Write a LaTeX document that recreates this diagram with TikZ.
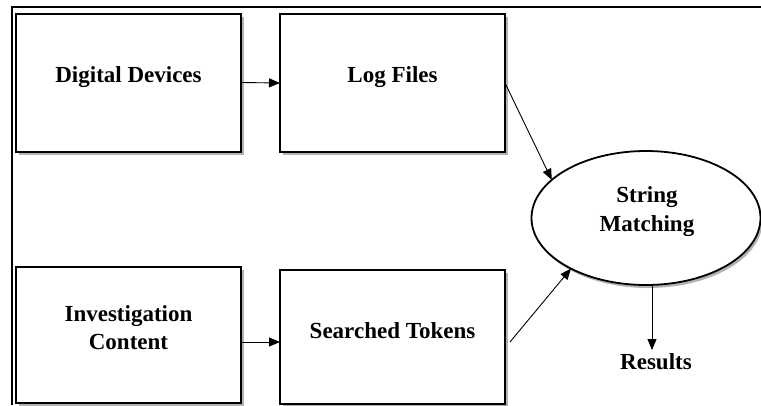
\documentclass[tikz,border=0pt]{standalone}
\usepackage{fontspec}
\setmainfont{Liberation Serif}
\usetikzlibrary{arrows.meta,shadows,calc,shapes.geometric}

\begin{document}
\begin{tikzpicture}[x=1pt,y=-1pt,
  every node/.style={inner sep=0pt, outer sep=0pt},
  box/.style={draw=black, line width=2pt, fill=white, rectangle,
    minimum width=225pt, minimum height=138pt,
    drop shadow={shadow xshift=3pt, shadow yshift=-3pt, opacity=0.3, fill=black}},
  oval/.style={draw=black, line width=1.8pt, fill=white, ellipse,
    minimum width=229pt, minimum height=134pt,
    drop shadow={shadow xshift=2pt, shadow yshift=-3pt, opacity=0.3, fill=black}},
  lbl/.style={font=\fontsize{23}{28.5}\selectfont\bfseries, align=center},
  arr/.style={line width=0.9pt, -{Triangle[length=11pt,width=9pt]}},
  frame/.style={line width=2.2pt}
]
\useasboundingbox (0,0) rectangle (761,405);

% outer frame (top and left edges)
\coordinate (fr1) at (761,7);
\coordinate (fr2) at (12,7);
\coordinate (fr3) at (12,405);
\draw[frame] (fr1) -- (fr2) -- (fr3);

% process boxes
\node[box] (dd) at (128.5,82.5) {};
\node[box] (lf) at (392.5,83) {};
\node[box, minimum height=136pt] (ic) at (128.5,335) {};
\node[box, minimum height=134pt] (st) at (392.5,337) {};

% matching step
\node[oval] (sm) at (646,218) {};

% texts
\node[lbl] (ddt) at ($(dd.center)+(0,-5.5)$) {Digital Devices};
\node[lbl] (lft) at ($(lf.center)+(0,-6)$) {Log Files};
\node[lbl] (ict) at ($(ic.center)+(0,-7.5)$) {Investigation\\Content};
\node[lbl] (stt) at ($(st.center)+(0,-6)$) {Searched Tokens};
\node[lbl] (smt) at (647,211.5) {String\\Matching};
\node[lbl] (res) at (656,362) {Results};

% connectors
\draw[arr] (dd.east) -- (lf.west);
\draw[arr] ([yshift=-7pt]ic.east) -- ([yshift=-7pt]ic.east -| st.west);
\draw[arr] (lf.east) -- (sm.158);
\coordinate (stout) at ($(st.east)+(5,5)$);
\draw[arr] (stout) -- (sm.214);
\coordinate (rtip) at (652,350);
\draw[arr] (sm.south -| rtip) -- (rtip);
\end{tikzpicture}
\end{document}
